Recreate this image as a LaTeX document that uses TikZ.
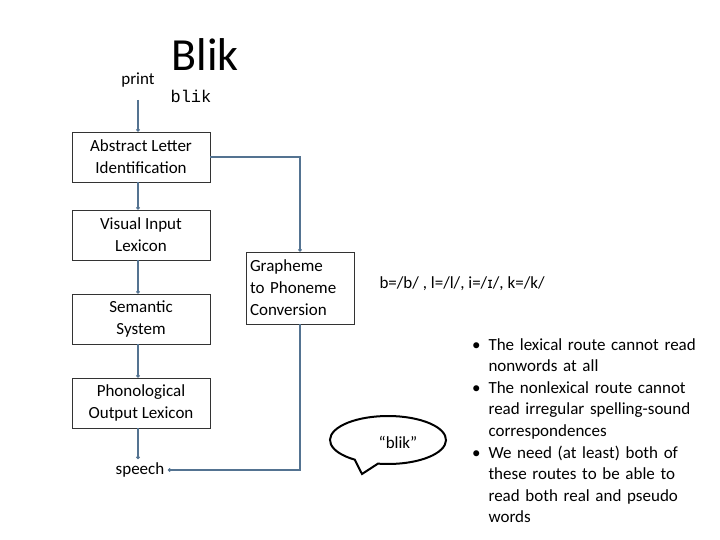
\documentclass[tikz,border=0pt]{standalone}
\usepackage{fontspec}
\setmainfont{Carlito}
\newfontfamily\monof{Liberation Mono}
\usetikzlibrary{arrows.meta}
\definecolor{conc}{RGB}{84,115,145}
\begin{document}
\begin{tikzpicture}[x=1pt,y=-1pt,
  box/.style={draw=black!80,line width=0.8pt,minimum width=138pt,minimum height=50pt,inner sep=1pt,align=center,font=\fontsize{17}{22}\selectfont},
  conn/.style={draw=conc,line width=1.3pt,-{Circle[length=3.5pt]}},
  txt/.style={font=\fontsize{17}{20}\selectfont}]
\useasboundingbox (0,0) rectangle (720,540);
\node[font=\fontsize{46}{48}\selectfont] (Blik) at (205,55) {Blik};
\node[txt] (print) at (138,80) {print};
\node[font=\monof\fontsize{17}{18}\selectfont] (blik) at (191,96) {blik};
\coordinate (ps) at (138,100);
\node[box] (ali) at (141,157) {Abstract Letter\\Identification};
\node[box] (vil) at (141,235) {Visual Input\\Lexicon};
\node[box] (sem) at (141,319) {Semantic\\System};
\node[box] (pol) at (141,403) {Phonological\\Output Lexicon};
\node[txt] (speech) at (140,470) {speech};
\node[box,minimum width=108pt,minimum height=72pt,align=left,text width=100pt] (gpc) at (300,288) {Grapheme\\to Phoneme\\Conversion};
\node[txt,anchor=west] (rule) at (376,284) {b=/b/ , l=/l/, i=/\fontspec{DejaVu Sans}\fontsize{15}{18}\selectfont ɪ\fontspec{Carlito}\fontsize{17}{20}\selectfont/, k=/k/};
\draw[conn] (ps) -- (ali.north -| ps);
\draw[conn] (ali.south -| ps) -- (vil.north -| ps);
\draw[conn] (vil.south -| ps) -- (sem.north -| ps);
\draw[conn] (sem.south -| ps) -- (pol.north -| ps);
\draw[conn] (pol.south -| ps) -- (speech.north -| ps);
\draw[conn] (ali.east) -- (ali.east -| gpc.north) -- (gpc.north);
\draw[conn] (gpc.south) |- (speech.east);
% speech bubble
\draw[line width=2pt,fill=white] (388,440) ++(125:58 and 24) coordinate (b0)
  arc[start angle=125,end angle=460,x radius=58,y radius=24] -- (362,474) -- (b0) -- cycle;
\node[txt] (say) at (398,442) {“blik”};
\node[font=\fontsize{17}{21.6}\selectfont,anchor=north west,text width=240pt,align=left] (bul) at (460,317)
{\begin{itemize}\raggedright\setlength{\itemsep}{0pt}\setlength{\parskip}{0pt}\setlength{\leftmargin}{21pt}\setlength{\labelsep}{8pt}
\item[\textbullet] The lexical route cannot read nonwords at all
\item[\textbullet] The nonlexical route cannot read irregular spelling-sound correspondences
\item[\textbullet] We need (at least) both of these routes to be able to read both real and pseudo words
\end{itemize}};
\end{tikzpicture}
\end{document}
